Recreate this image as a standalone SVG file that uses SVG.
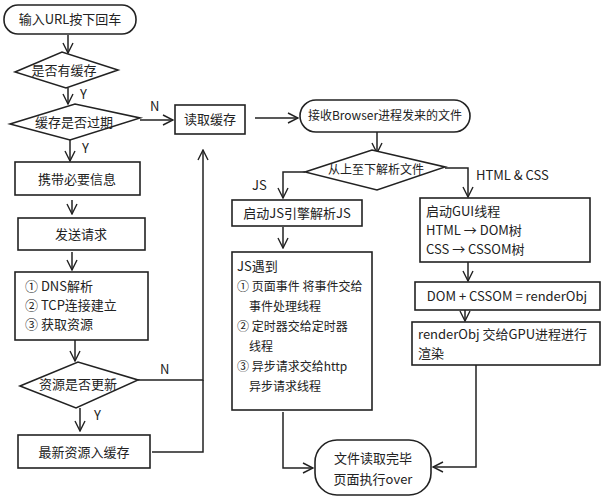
<svg xmlns="http://www.w3.org/2000/svg" width="609" height="500" viewBox="0 0 609 500">
<defs>
<marker id="a" viewBox="0 0 12 12" refX="11" refY="6" markerWidth="12" markerHeight="12" markerUnits="userSpaceOnUse" orient="auto"><path d="M1,1 L11,6 L1,11" fill="none" stroke="#222" stroke-width="1.4"/></marker>
<style>
.s{fill:#fff;stroke:#222;stroke-width:1.6}
.c{fill:none;stroke:#222;stroke-width:1.5}
text{font-family:"Noto Sans CJK SC","Liberation Sans",sans-serif;font-size:13px;fill:#222}
.m{text-anchor:middle}
.sm{font-size:12px}
</style>
</defs>
<rect width="609" height="500" fill="#fff"/>
<g id="connectors">
<path class="c" d="M68,35 V53" marker-end="url(#a)"/>
<path class="c" d="M68,88 V104" marker-end="url(#a)"/>
<path class="c" d="M140,120 H173" marker-end="url(#a)"/>
<path class="c" d="M255,118 H298" marker-end="url(#a)"/>
<path class="c" d="M70,140 V161" marker-end="url(#a)"/>
<path class="c" d="M72,200 V214" marker-end="url(#a)"/>
<path class="c" d="M72,252 V270" marker-end="url(#a)"/>
<path class="c" d="M75,340 V361" marker-end="url(#a)"/>
<path class="c" d="M80,408 V431" marker-end="url(#a)"/>
<path class="c" d="M138,380 H203 V150" marker-end="url(#a)"/>
<path class="c" d="M152,452 H203 V380"/>
<path class="c" d="M377,132 V153" marker-end="url(#a)"/>
<path class="c" d="M305,172 H283 V198" marker-end="url(#a)"/>
<path class="c" d="M283,227 V248" marker-end="url(#a)"/>
<path class="c" d="M445,168 H468 V197" marker-end="url(#a)"/>
<path class="c" d="M468,262 V281" marker-end="url(#a)"/>
<path class="c" d="M465,310 V321" marker-end="url(#a)"/>
<path class="c" d="M283,412 V468 H313" marker-end="url(#a)"/>
<path class="c" d="M476,365 V467 H433" marker-end="url(#a)"/>
<text x="80" y="99">Y</text>
<text x="82" y="153">Y</text>
<text x="94" y="420">Y</text>
<text x="150" y="111">N</text>
<text x="160" y="374">N</text>
<text x="252" y="190">JS</text>
<text x="476" y="180">HTML &amp; CSS</text>
</g>
<g id="start"><rect class="s" x="4" y="5" width="132" height="29" rx="14"/><text class="m" x="70" y="24">输入URL按下回车</text></g>
<g id="hasCache"><path class="s" d="M15,72 L62,52 L118,70 L66,88 Z"/><text class="m" x="64" y="75">是否有缓存</text></g>
<g id="expired"><path class="s" d="M10,124 L75,104 L140,118 L70,140 Z"/><text class="m" x="74" y="127">缓存是否过期</text></g>
<g id="readCache"><rect class="s" x="175" y="105" width="70" height="29"/><text class="m" x="210" y="124">读取缓存</text></g>
<g id="carry"><rect class="s" x="15" y="162" width="125" height="33"/><text class="m" x="77" y="184">携带必要信息</text></g>
<g id="send"><rect class="s" x="18" y="218" width="127" height="32"/><text class="m" x="81" y="239">发送请求</text></g>
<g id="dns"><rect class="s" x="15" y="272" width="133" height="68"/><text x="25" y="291">① DNS解析</text><text x="25" y="310">② TCP连接建立</text><text x="25" y="329">③ 获取资源</text></g>
<g id="updated"><path class="s" d="M20,386 L78,362 L138,380 L76,408 Z"/><text class="m" x="78" y="389">资源是否更新</text></g>
<g id="store"><rect class="s" x="18" y="435" width="132" height="33"/><text class="m" x="84" y="457">最新资源入缓存</text></g>
<g id="receive"><rect class="s" x="300" y="100" width="170" height="32" rx="16"/><text class="m sm" x="385" y="120">接收Browser进程发来的文件</text></g>
<g id="parse"><path class="s" d="M305,172 L372,150 L445,167 L377,190 Z"/><text class="m sm" x="376" y="174">从上至下解析文件</text></g>
<g id="jsEngine"><rect class="s" x="232" y="200" width="130" height="26"/><text class="m" x="297" y="218">启动JS引擎解析JS</text></g>
<g id="jsMeet"><rect class="s" x="232" y="252" width="140" height="158"/><text x="237" y="271">JS遇到</text><text class="sm" x="237" y="291">① 页面事件 将事件交给</text><text class="sm" x="249" y="311">事件处理线程</text><text class="sm" x="237" y="331">② 定时器交给定时器</text><text class="sm" x="249" y="351">线程</text><text class="sm" x="237" y="371">③ 异步请求交给http</text><text class="sm" x="249" y="391">异步请求线程</text></g>
<g id="gui"><rect class="s" x="420" y="198" width="170" height="64"/><text x="426" y="216">启动GUI线程</text><text x="426" y="235">HTML  →  DOM树</text><text x="426" y="254">CSS    →  CSSOM树</text></g>
<g id="renderObj"><rect class="s" x="415" y="282" width="185" height="28"/><text class="m" x="507" y="301">DOM + CSSOM = renderObj</text></g>
<g id="gpu"><rect class="s" x="412" y="322" width="188" height="43"/><text x="418" y="339">renderObj 交给GPU进程进行</text><text x="418" y="358">渲染</text></g>
<g id="end"><rect class="s" x="315" y="440" width="116" height="55" rx="22"/><text class="m" x="373" y="463">文件读取完毕</text><text class="m" x="373" y="484">页面执行over</text></g>
</svg>
